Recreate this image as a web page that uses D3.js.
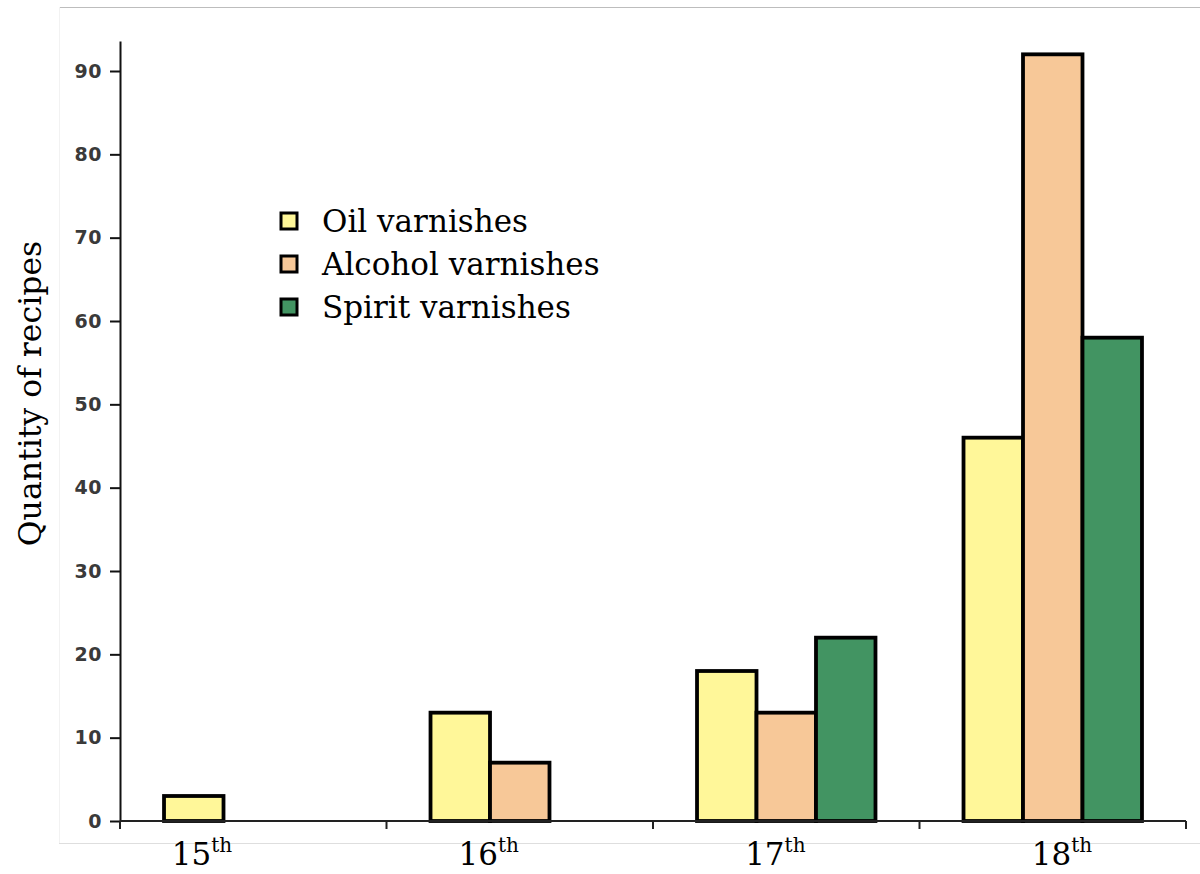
<!DOCTYPE html>
<html>
<head>
<meta charset="utf-8">
<script src="https://cdn.jsdelivr.net/npm/d3@7"></script>
<style>
  body { margin: 0; background: #fff; }
  svg { display: block; }
</style>
</head>
<body>
<div id="chart"></div>
<script>
// data
const centuries = ['15', '16', '17', '18'];
const series = ['Oil varnishes', 'Alcohol varnishes', 'Spirit varnishes'];
const oil = [3, 13, 18, 46];
const alcohol = [0, 7, 13, 92];
const spirit = [0, 0, 22, 58];
const yTicks = [0, 10, 20, 30, 40, 50, 60, 70, 80, 90];

const colors = ['#fff799', '#f7c898', '#429462'];

let width = 1200;
let height = 874;

let svg = d3.select('#chart')
    .append('svg')
    .attr('width', width)
    .attr('height', height);

// faint frame lines of the original figure
svg.append('line')
    .attr('x1', 59).attr('x2', width)
    .attr('y1', 7.5).attr('y2', 7.5)
    .style('stroke', '#bdbdbd').style('stroke-width', 1);
svg.append('line')
    .attr('x1', 59).attr('x2', width)
    .attr('y1', 843.5).attr('y2', 843.5)
    .style('stroke', '#dedede').style('stroke-width', 1);
svg.append('line')
    .attr('x1', 59.5).attr('x2', 59.5)
    .attr('y1', 7).attr('y2', 843)
    .style('stroke', '#f2f2f2').style('stroke-width', 1);

// scales
const x = d3.scaleBand()
    .domain(centuries)
    .range([120, 1186])
    .padding(0);

const xSub = d3.scaleBand()
    .domain(series)
    .range([0, x.bandwidth()])
    .paddingInner(0)
    .paddingOuter(0.74);

const y = d3.scaleLinear()
    .domain([0, 93.6])
    .range([821, 41]);

// table for bars
let values = [oil, alcohol, spirit];
let data = [];
centuries.forEach((c, i) => {
    series.forEach((s, j) => {
        data.push({ century: c, series: s, idx: j, value: values[j][i] });
    });
});

// bars
svg.append('g')
    .selectAll('rect')
    .data(data.filter(d => d.value > 0))
    .join('rect')
    .attr('x', d => x(d.century) + xSub(d.series))
    .attr('y', d => y(d.value))
    .attr('width', xSub.bandwidth())
    .attr('height', d => y(0) - y(d.value))
    .attr('fill', d => colors[d.idx])
    .style('stroke', '#000')
    .style('stroke-width', 3.8);

// y axis
let yAxis = svg.append('g')
    .attr('transform', `translate(${x.range()[0]},0)`)
    .call(d3.axisLeft(y).tickValues(yTicks).tickSize(10).tickSizeOuter(0).tickPadding(8));
yAxis.select('.domain').style('stroke', '#111').style('stroke-width', 2);
yAxis.selectAll('.tick line').style('stroke', '#111').style('stroke-width', 2);
yAxis.selectAll('.tick text')
    .attr('font-family', null)
    .attr('font-size', null)
    .style('font-family', 'DejaVu Sans, Arial, sans-serif')
    .style('font-size', '19px')
    .style('font-weight', 'bold')
    .style('letter-spacing', '0.5px')
    .style('fill', '#3a3a3a');

// x axis: baseline with ticks on band boundaries
svg.append('line')
    .attr('x1', x.range()[0]).attr('x2', x.range()[1])
    .attr('y1', y(0)).attr('y2', y(0))
    .style('stroke', '#222').style('stroke-width', 2);
let bounds = centuries.map(c => x(c)).concat([x.range()[1]]);
svg.append('g')
    .selectAll('line')
    .data(bounds)
    .join('line')
    .attr('x1', d => d).attr('x2', d => d)
    .attr('y1', y(0)).attr('y2', y(0) + 8)
    .style('stroke', '#222').style('stroke-width', 2);

// century labels
const xLab = d3.scalePoint()
    .domain(centuries)
    .range([202, 1062]);
let labs = svg.append('g')
    .selectAll('text')
    .data(centuries)
    .join('text')
    .attr('x', d => xLab(d))
    .attr('y', 865)
    .attr('text-anchor', 'middle')
    .style('font-family', 'DejaVu Serif, Liberation Serif, serif')
    .style('font-size', '31px')
    .style('fill', '#000');
labs.append('tspan').text(d => d);
labs.append('tspan')
    .attr('dy', -13)
    .style('font-size', '20px')
    .text('th');

// y title
svg.append('text')
    .attr('transform', `translate(41,${y(51.3)}) rotate(-90)`)
    .attr('text-anchor', 'middle')
    .style('font-family', 'DejaVu Serif, Liberation Serif, serif')
    .style('font-size', '31.5px')
    .style('fill', '#000')
    .text('Quantity of recipes');

// legend
let legend = svg.append('g')
    .attr('transform', 'translate(281,213)');
let item = legend.selectAll('g')
    .data(series)
    .join('g')
    .attr('transform', (d, i) => `translate(0,${i * 43})`);
item.append('rect')
    .attr('width', 16).attr('height', 16)
    .attr('fill', (d, i) => colors[i])
    .style('stroke', '#000')
    .style('stroke-width', 3);
item.append('text')
    .attr('x', 41)
    .attr('y', 19)
    .style('font-family', 'DejaVu Serif, Liberation Serif, serif')
    .style('font-size', '31px')
    .style('fill', '#000')
    .text(d => d);
</script>
</body>
</html>
